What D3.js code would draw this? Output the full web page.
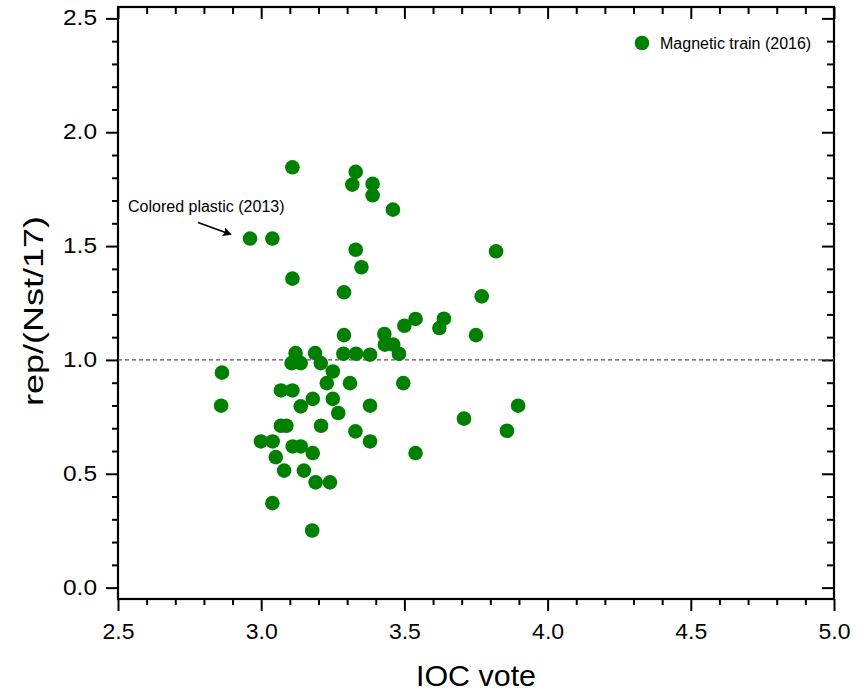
<!DOCTYPE html>
<html>
<head>
<meta charset="utf-8" />
<title>rep vs IOC vote</title>
<style>
html, body {
    margin: 0;
    padding: 0;
    background: #fff;
}
svg text {
    font-family: "Liberation Sans", Arial, sans-serif;
    fill: #000;
}
.axis path, .axis line {
    stroke: #000;
    stroke-width: 2;
}
</style>
</head>
<body>
<svg id="chart" width="867" height="694"></svg>
<script src="https://cdn.jsdelivr.net/npm/d3@7"></script>
<script>
// IOC vote (x) and rep/(Nst/17) (y)
var iocVote = [
    2.961, 3.039, 3.109, 3.330, 3.318, 3.389, 3.389, 3.460, 3.109, 3.330,
    3.350, 3.289, 3.820, 3.770, 3.750, 3.539, 3.500, 3.638, 3.622, 3.430,
    3.289, 3.432, 3.461, 3.481, 3.287, 3.331, 3.380, 3.188, 3.120, 3.106,
    3.138, 3.208, 3.250, 3.229, 3.310, 3.496, 2.863, 2.860, 3.069, 3.109,
    3.138, 3.180, 3.250, 3.269, 3.380, 3.897, 3.708, 3.858, 3.069, 3.088,
    3.209, 3.329, 2.999, 3.040, 3.110, 3.138, 3.180, 3.380, 3.051, 3.080,
    3.149, 3.539, 3.190, 3.240, 3.039, 3.178
];
var rep = [
    1.533, 1.533, 1.846, 1.826, 1.770, 1.773, 1.723, 1.660, 1.357, 1.484,
    1.407, 1.297, 1.477, 1.279, 1.109, 1.180, 1.150, 1.181, 1.140, 1.114,
    1.109, 1.067, 1.067, 1.027, 1.027, 1.027, 1.023, 1.030, 1.030, 0.986,
    0.986, 0.986, 0.949, 0.898, 0.898, 0.898, 0.944, 0.799, 0.866, 0.866,
    0.796, 0.829, 0.829, 0.767, 0.799, 0.799, 0.742, 0.689, 0.711, 0.711,
    0.711, 0.686, 0.642, 0.642, 0.620, 0.620, 0.591, 0.642, 0.573, 0.514,
    0.514, 0.591, 0.462, 0.462, 0.371, 0.251
];
var xMajor = [2.5, 3.0, 3.5, 4.0, 4.5, 5.0];
var yMajor = [0.0, 0.5, 1.0, 1.5, 2.0, 2.5];
var refLine = 1.0;
var seriesName = "Magnetic train (2016)";
var noteText = "Colored plastic (2013)";
var noteIndex = 0;   // the point the arrow points at

var green = "#008000";
var svg = d3.select("#chart");
var W = 867, H = 694;
var margin = {top: 7, right: 33, bottom: 95, left: 118};

var x = d3.scaleLinear().domain([2.5, 5.0]).range([margin.left, W - margin.right]);
var y = d3.scaleLinear().domain([-0.05, 2.55]).range([H - margin.bottom, margin.top]);

// minor tick positions every 0.1
var xMinor = d3.range(25, 51).map(function(d) { return d / 10; })
    .filter(function(v) { return xMajor.indexOf(v) < 0; });
var yMinor = d3.range(0, 26).map(function(d) { return d / 10; })
    .filter(function(v) { return yMajor.indexOf(v) < 0; });

var x0 = margin.left, x1 = W - margin.right;
var y0 = H - margin.bottom, y1 = margin.top;

function tickGroup(axis, transform) {
    var g = svg.append("g").attr("class", "axis").attr("transform", transform).call(axis);
    g.select(".domain").remove();
    return g;
}

// bottom axis, outward ticks
var bottom = tickGroup(d3.axisBottom(x).tickValues(xMajor).tickSize(12).tickPadding(8)
    .tickFormat(d3.format(".1f")), "translate(0," + y0 + ")");
bottom.selectAll("text").attr("font-size", 21.5).attr("textLength", 32)
    .attr("lengthAdjust", "spacingAndGlyphs").attr("dy", "0.95em");
tickGroup(d3.axisBottom(x).tickValues(xMinor).tickSize(6).tickFormat(""), "translate(0," + y0 + ")");

// left axis, outward ticks
var left = tickGroup(d3.axisLeft(y).tickValues(yMajor).tickSize(12).tickPadding(9)
    .tickFormat(d3.format(".1f")), "translate(" + x0 + ",0)");
left.selectAll("text").attr("font-size", 21.5).attr("textLength", 34)
    .attr("lengthAdjust", "spacingAndGlyphs").attr("dy", "0.3em");
tickGroup(d3.axisLeft(y).tickValues(yMinor).tickSize(6).tickFormat(""), "translate(" + x0 + ",0)");

// top and right axes, inward ticks
tickGroup(d3.axisBottom(x).tickValues(xMajor).tickSize(12).tickFormat(""), "translate(0," + y1 + ")");
tickGroup(d3.axisBottom(x).tickValues(xMinor).tickSize(7).tickFormat(""), "translate(0," + y1 + ")");
tickGroup(d3.axisLeft(y).tickValues(yMajor).tickSize(12).tickFormat(""), "translate(" + x1 + ",0)");
tickGroup(d3.axisLeft(y).tickValues(yMinor).tickSize(7).tickFormat(""), "translate(" + x1 + ",0)");

// frame
svg.append("rect")
    .attr("x", x0).attr("y", y1)
    .attr("width", x1 - x0).attr("height", y0 - y1)
    .attr("fill", "none").attr("stroke", "#000").attr("stroke-width", 2.2);

// dashed reference line
svg.append("line")
    .attr("x1", x0).attr("x2", x1)
    .attr("y1", y(refLine)).attr("y2", y(refLine))
    .attr("stroke", "#555").attr("stroke-width", 1.3)
    .attr("stroke-dasharray", "4,3");

// points
svg.append("g").selectAll("circle")
    .data(d3.range(iocVote.length))
    .enter().append("circle")
    .attr("cx", function(i) { return x(iocVote[i]); })
    .attr("cy", function(i) { return y(rep[i]); })
    .attr("r", 7.3)
    .attr("fill", green);

// annotation
var defs = svg.append("defs");
defs.append("marker")
    .attr("id", "arrow")
    .attr("viewBox", "0 0 10 10")
    .attr("refX", 9).attr("refY", 5)
    .attr("markerWidth", 13).attr("markerHeight", 9)
    .attr("markerUnits", "userSpaceOnUse")
    .attr("orient", "auto")
    .append("path").attr("d", "M0,0L10,5L0,10L2,5z").attr("fill", "#000");

var px = x(iocVote[noteIndex]), py = y(rep[noteIndex]);
svg.append("line")
    .attr("x1", px - 52).attr("y1", py - 16)
    .attr("x2", px - 19).attr("y2", py - 4)
    .attr("stroke", "#000").attr("stroke-width", 1.5)
    .attr("marker-end", "url(#arrow)");
svg.append("text")
    .attr("x", 128).attr("y", py - 27)
    .attr("font-size", 16)
    .text(noteText);

// legend
svg.append("circle").attr("cx", 642).attr("cy", 43).attr("r", 7.3).attr("fill", green);
svg.append("text").attr("x", 660).attr("y", 48.5).attr("font-size", 16).text(seriesName);

// axis titles
svg.append("text")
    .attr("x", (x0 + x1) / 2).attr("y", 686)
    .attr("text-anchor", "middle")
    .attr("font-size", 29)
    .attr("textLength", 120).attr("lengthAdjust", "spacingAndGlyphs")
    .text("IOC vote");
svg.append("text")
    .attr("transform", "translate(43," + 311 + ") rotate(-90)")
    .attr("text-anchor", "middle")
    .attr("font-size", 28)
    .attr("textLength", 190).attr("lengthAdjust", "spacingAndGlyphs")
    .text("rep/(Nst/17)");
</script>
</body>
</html>
